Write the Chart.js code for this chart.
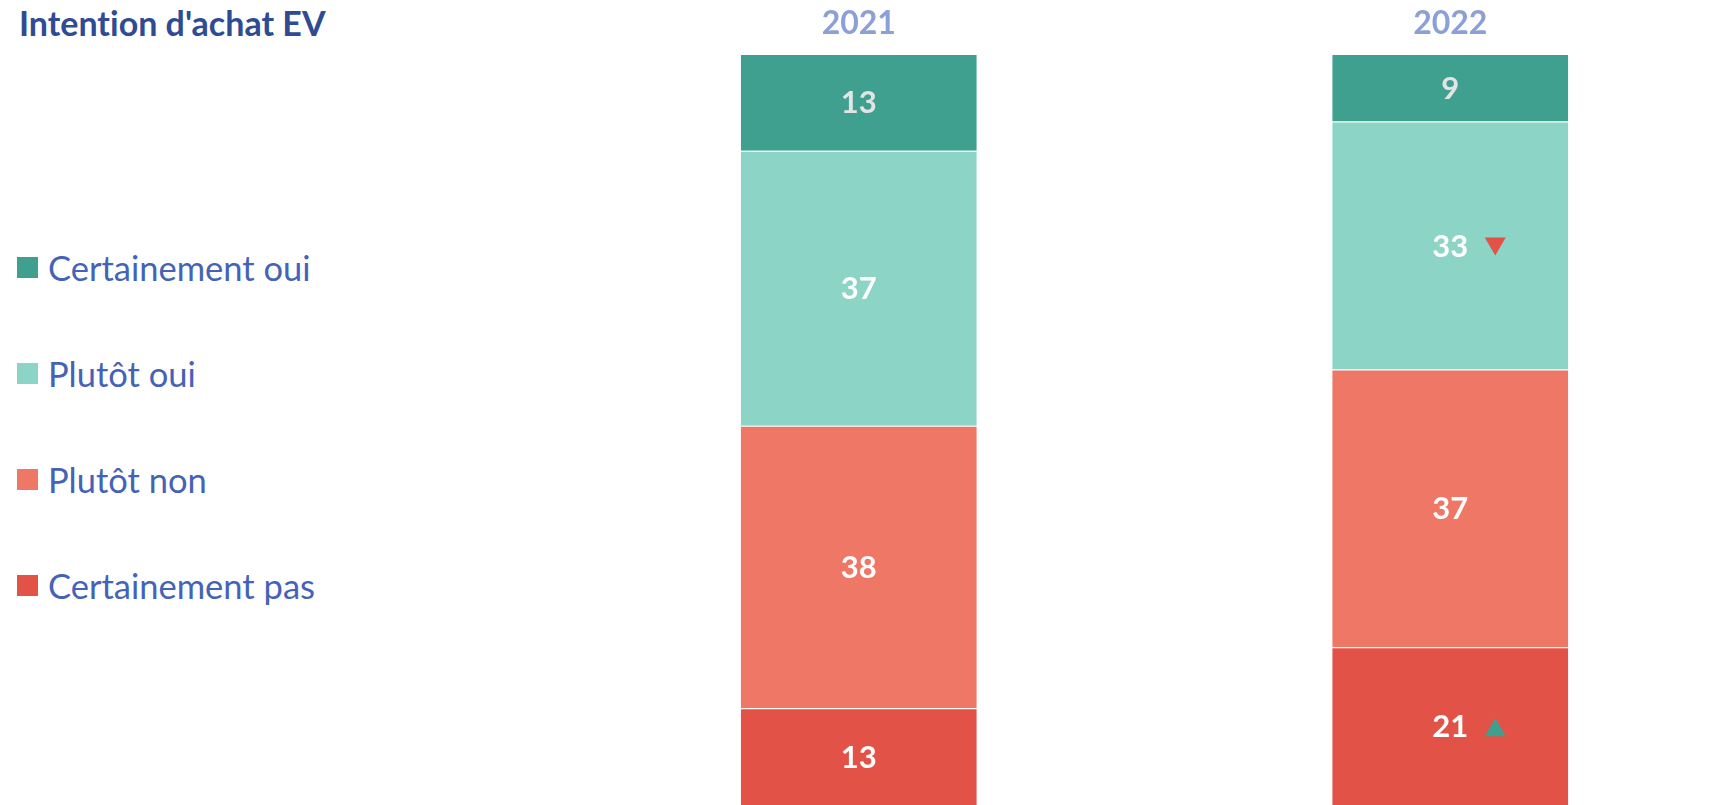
<!DOCTYPE html>
<html>
<head>
<meta charset="utf-8">
<script src="https://cdn.jsdelivr.net/npm/chart.js@4.4.0/dist/chart.umd.min.js"></script>
<style>
  html, body { margin: 0; padding: 0; width: 1729px; height: 805px; overflow: hidden; background: #ffffff; font-family: Lato, sans-serif; }
  #title { position: absolute; left: 19px; top: 6px; font: bold 34px/34px Lato, sans-serif; color: #2E4B93; white-space: nowrap; font-variant-ligatures: none; font-feature-settings: "liga" 0, "dlig" 0; }
  #legend { position: absolute; left: 0; top: 0; }
  .lg-item { position: absolute; left: 17px; height: 40px; display: flex; align-items: center; white-space: nowrap; }
  .lg-box { width: 21px; height: 21px; margin-right: 10px; }
  .lg-text { font: 34.5px/40px Lato, sans-serif; color: #4563B6; font-variant-ligatures: none; }
  #wrap { position: absolute; left: 563px; top: -7px; width: 1183px; height: 812px; }
</style>
</head>
<body>
<div id="title">Intention d'achat EV</div>
<div id="legend"></div>
<div id="wrap"><canvas id="c" width="1183" height="812"></canvas></div>
<script>
// ---- Data ----
const categories = ['2021', '2022'];
const certainementPas = [13, 21];
const plutotNon = [38, 37];
const plutotOui = [37, 33];
const certainementOui = [13, 9];
// significance markers ('' none, 'up' rise, 'down' fall)
const sigCertainementPas = ['', 'up'];
const sigPlutotNon = ['', ''];
const sigPlutotOui = ['', 'down'];
const sigCertainementOui = ['', ''];
const seriesNames = ['Certainement pas', 'Plutôt non', 'Plutôt oui', 'Certainement oui'];
const seriesColors = ['#E25247', '#EF7766', '#8CD5C6', '#3FA08F'];
const labelColors = ['#FFFFFF', '#FFFFFF', '#FFFFFF', '#E4E4E4'];

const seriesValues = [certainementPas, plutotNon, plutotOui, certainementOui];
const seriesSig = [sigCertainementPas, sigPlutotNon, sigPlutotOui, sigCertainementOui];
const totals = categories.map((_, i) => seriesValues.reduce((s, arr) => s + arr[i], 0));

// ---- Legend (HTML), top item = last series ----
const legendCenters = [267.5, 373.5, 479.5, 585.5];
const legendEl = document.getElementById('legend');
seriesNames.slice().reverse().forEach((name, k) => {
  const idx = seriesNames.length - 1 - k;
  const item = document.createElement('div');
  item.className = 'lg-item';
  item.style.top = (legendCenters[k] - 20) + 'px';
  const box = document.createElement('div');
  box.className = 'lg-box';
  box.style.background = seriesColors[idx];
  const txt = document.createElement('span');
  txt.className = 'lg-text';
  txt.textContent = name;
  item.appendChild(box); item.appendChild(txt);
  legendEl.appendChild(item);
});

// ---- Value labels + significance triangles ----
const valueLabels = {
  id: 'valueLabels',
  afterDatasetsDraw(chart) {
    const ctx = chart.ctx;
    ctx.save();
    ctx.font = 'bold 31px Lato';
    ctx.textAlign = 'center';
    ctx.textBaseline = 'middle';
    chart.data.datasets.forEach((ds, di) => {
      const meta = chart.getDatasetMeta(di);
      meta.data.forEach((bar, i) => {
        const p = bar.getCenterPoint();
        ctx.fillStyle = labelColors[di];
        ctx.fillText(String(seriesValues[di][i]), p.x, p.y + 1);
        const s = seriesSig[di][i];
        if (s) {
          const cx = p.x + 45, cy = p.y + 1;
          ctx.beginPath();
          if (s === 'down') {
            ctx.fillStyle = '#E25247';
            ctx.moveTo(cx - 10.5, cy - 9); ctx.lineTo(cx + 10.5, cy - 9); ctx.lineTo(cx, cy + 9);
          } else {
            ctx.fillStyle = '#3FA08F';
            ctx.moveTo(cx - 10.5, cy + 9); ctx.lineTo(cx + 10.5, cy + 9); ctx.lineTo(cx, cy - 9);
          }
          ctx.closePath();
          ctx.fill();
        }
      });
    });
    ctx.restore();
  }
};

new Chart(document.getElementById('c'), {
  type: 'bar',
  data: {
    labels: categories,
    datasets: seriesNames.map((name, di) => ({
      label: name,
      data: seriesValues[di].map((v, i) => v / totals[i] * 100),
      backgroundColor: seriesColors[di],
      borderColor: 'rgba(255,255,255,0.22)',
      borderWidth: { top: 1, left: 0, right: 0, bottom: 0 },
      borderSkipped: false,
      categoryPercentage: 0.399,
      barPercentage: 1
    }))
  },
  options: {
    responsive: false,
    animation: false,
    layout: { padding: 0 },
    plugins: {
      legend: { display: false },
      title: { display: false },
      tooltip: { enabled: false }
    },
    scales: {
      x: {
        position: 'top',
        stacked: true,
        grid: { display: false, drawTicks: false },
        border: { display: false },
        ticks: {
          color: '#8B9FD8',
          font: { family: 'Lato', weight: 'bold', size: 32, lineHeight: 1.2 },
          padding: 11.3
        }
      },
      y: {
        display: false,
        stacked: true,
        min: 0,
        max: 100
      }
    }
  },
  plugins: [valueLabels]
});
</script>
</body>
</html>
